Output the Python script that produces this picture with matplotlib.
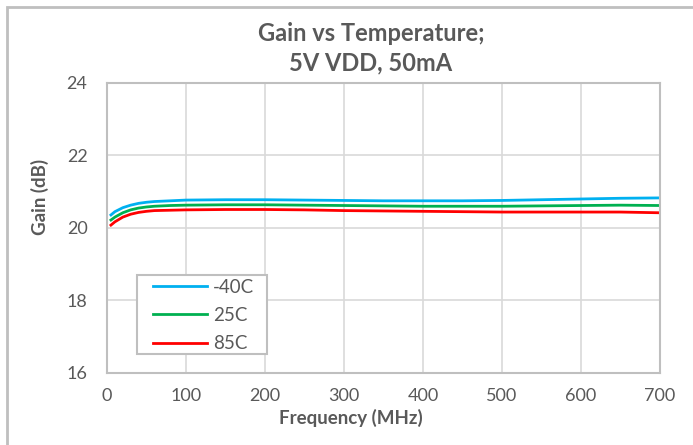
import matplotlib.pyplot as plt
from matplotlib.patches import Rectangle

freq = [5, 10, 20, 30, 40, 50, 60, 80, 100, 150, 200, 250, 300, 350, 400, 450, 500, 550, 600, 650, 700]
gain_m40 = [20.36, 20.45, 20.56, 20.63, 20.68, 20.71, 20.73, 20.75, 20.77, 20.78, 20.78, 20.77, 20.76,
            20.75, 20.75, 20.75, 20.76, 20.78, 20.80, 20.82, 20.83]
gain_25 = [20.22, 20.30, 20.42, 20.50, 20.55, 20.58, 20.60, 20.62, 20.63, 20.64, 20.64, 20.63, 20.62,
           20.61, 20.60, 20.60, 20.60, 20.61, 20.62, 20.63, 20.62]
gain_85 = [20.08, 20.17, 20.30, 20.38, 20.43, 20.46, 20.48, 20.49, 20.50, 20.51, 20.51, 20.50, 20.48,
           20.47, 20.46, 20.45, 20.44, 20.44, 20.44, 20.44, 20.42]

plt.rcParams['font.family'] = ['Lato', 'DejaVu Sans']
txt = '#595959'

fig = plt.figure(figsize=(6.93, 4.45), dpi=100)
ax = fig.add_axes([0.1544, 0.1618, 0.7977, 0.6517])

ax.plot(freq, gain_m40, color='#00B0F0', linewidth=2, label='-40C')
ax.plot(freq, gain_25, color='#00B050', linewidth=2, label='25C')
ax.plot(freq, gain_85, color='#FF0000', linewidth=2, label='85C')

ax.set_xlim(0, 700)
ax.set_ylim(16, 24)
ax.set_xticks(range(0, 701, 100))
ax.set_yticks(range(16, 25, 2))
ax.grid(True, color='#D9D9D9', linewidth=1.2)
ax.set_axisbelow(True)
for s in ax.spines.values():
    s.set_color('#BFBFBF')
    s.set_linewidth(1.5)
ax.tick_params(colors=txt, labelsize=13, length=0)
ax.tick_params(axis='x', pad=11)
ax.tick_params(axis='y', pad=14)

ax.set_xlabel('Frequency (MHz)', fontsize=13.5, fontweight='bold', color=txt)
ax.xaxis.set_label_coords(0.441, -0.155)
ax.xaxis.label.set_verticalalignment('center')
ax.set_ylabel('Gain (dB)', fontsize=13.5, fontweight='bold', color=txt)
ax.yaxis.set_label_coords(-0.121, 0.607)
ax.yaxis.label.set_verticalalignment('center')

fig.text(0.535, 0.891, 'Gain vs Temperature;\n5V VDD, 50mA', ha='center', va='center',
         fontsize=17, fontweight='bold', color=txt, linespacing=1.35)

# legend entries without own frame; box drawn separately (Excel-style padding)
leg = ax.legend(loc='upper left', bbox_to_anchor=(0.0832, 0.3255), fontsize=13.5, frameon=False,
                handlelength=2.9, labelspacing=0.6, borderpad=0, handletextpad=0.3,
                borderaxespad=0)
for t in leg.get_texts():
    t.set_color(txt)
ax.add_patch(Rectangle((0.054, 0.0655), 0.235, 0.272, transform=ax.transAxes, facecolor='white',
                       edgecolor='#BFBFBF', linewidth=1.5, zorder=4))
leg.set_zorder(5)

fig.patches.append(Rectangle((0.0094, -0.05), 1.1, 1.034, transform=fig.transFigure,
                             fill=False, edgecolor='#BFBFBF', linewidth=2))

fig.savefig('out.png', dpi=100)
